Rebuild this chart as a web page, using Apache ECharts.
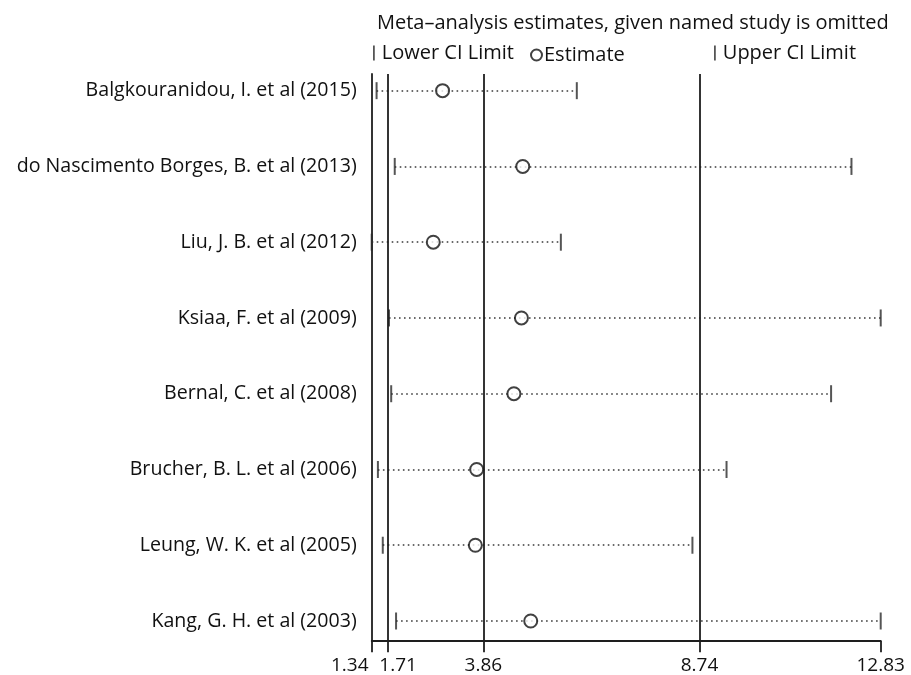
<!DOCTYPE html>
<html>
<head>
<meta charset="utf-8">
<script src="https://cdn.jsdelivr.net/npm/echarts@6/dist/echarts.min.js"></script>
<style>
  html, body { margin: 0; background: #fff; }
  #chart { width: 911px; height: 675px; }
</style>
</head>
<body>
<div id="chart"></div>
<script>
const studies = [
  "Balgkouranidou, I. et al (2015)",
  "do Nascimento Borges, B. et al (2013)",
  "Liu, J. B. et al (2012)",
  "Ksiaa, F. et al (2009)",
  "Bernal, C. et al (2008)",
  "Brucher, B. L. et al (2006)",
  "Leung, W. K. et al (2005)",
  "Kang, G. H. et al (2003)",
];
const lowerCI = [1.45, 1.86, 1.34, 1.73, 1.78, 1.48, 1.59, 1.89];
const estimate = [2.94, 4.75, 2.73, 4.72, 4.55, 3.71, 3.68, 4.93];
const upperCI = [5.97, 12.17, 5.61, 12.83, 11.71, 9.35, 8.58, 12.83];
// overall lower CI, estimate, upper CI
const overall = [1.71, 3.86, 8.74];
const xTicks = [1.34, 1.71, 3.86, 8.74, 12.83];

const rows = studies.map((s, i) => i + 1);
const font = "Open Sans";
const ink = "#1e1e1e";

let myChart = echarts.init(document.getElementById("chart"));
let option = {
  animation: false,
  textStyle: { fontFamily: font },
  title: {
    text: "Meta\u2013analysis estimates, given named study is omitted",
    left: 377,
    top: 13,
    padding: 0,
    textStyle: { fontFamily: font, fontSize: 20, fontWeight: "normal", color: "#111" },
  },
  legend: [
    {
      data: ["Lower CI Limit"],
      left: 373,
      top: 43,
      padding: 0,
      itemWidth: 1.8,
      itemHeight: 15,
      textStyle: { fontSize: 20, color: "#111", padding: [0, 0, 0, 2] },
    },
    {
      data: ["Estimate"],
      left: 530,
      top: 45,
      padding: 0,
      itemWidth: 11,
      itemHeight: 11,
      textStyle: { fontSize: 20, color: "#111", padding: [0, 0, 0, -3] },
    },
    {
      data: ["Upper CI Limit"],
      left: 714,
      top: 43,
      padding: 0,
      itemWidth: 1.8,
      itemHeight: 15,
      textStyle: { fontSize: 20, color: "#111", padding: [0, 0, 0, 2] },
    },
  ],
  grid: {
    left: 371.7,
    right: 30.3,
    top: 74,
    bottom: 34.3,
  },
  xAxis: {
    type: "value",
    min: 1.34,
    max: 12.83,
    axisLine: { lineStyle: { color: ink, width: 1.8 } },
    axisTick: { customValues: xTicks, length: 11.5, lineStyle: { color: ink, width: 1.8 } },
    axisLabel: {
      customValues: xTicks,
      margin: 15,
      fontSize: 19,
      color: "#111",
      //挤在一起的两个刻度标签左右错开
      formatter: (v) => {
        if (v === xTicks[0]) return "{l|" + v.toFixed(2) + "}";
        if (v === xTicks[1]) return "{r|" + v.toFixed(2) + "}";
        return v.toFixed(2);
      },
      rich: {
        l: { fontSize: 19, color: "#111", padding: [0, 44, 0, 0] },
        r: { fontSize: 19, color: "#111", padding: [0, 0, 0, 20] },
      },
    },
    splitLine: { show: false },
  },
  yAxis: {
    type: "value",
    inverse: true,
    min: 0.78,
    max: 8.26,
    axisLine: { show: true, lineStyle: { color: ink, width: 1.8 } },
    axisTick: { show: false },
    splitLine: { show: false },
    axisLabel: {
      customValues: rows,
      margin: 15,
      fontSize: 19.6,
      color: "#111",
      formatter: (v) => studies[v - 1],
    },
  },
  series: [
    {
      name: "ci",
      type: "lines",
      coordinateSystem: "cartesian2d",
      silent: true,
      z: 1,
      lineStyle: { color: "#3a3a3a", width: 1.6, type: [1.6, 3.4], opacity: 1 },
      data: rows.map((r, i) => ({ coords: [[lowerCI[i], r], [upperCI[i], r]] })),
    },
    {
      name: "Lower CI Limit",
      type: "scatter",
      symbol: "rect",
      symbolSize: [2, 17],
      z: 3,
      itemStyle: { color: "#2a2a2a" },
      data: rows.map((r, i) => [lowerCI[i], r]),
      //总体置信区间与估计值的竖线
      markLine: {
        silent: true,
        symbol: "none",
        label: { show: false },
        lineStyle: { color: ink, width: 1.8, type: "solid" },
        data: overall.map((v) => ({ xAxis: v })),
      },
    },
    {
      name: "Estimate",
      type: "scatter",
      symbol: "emptyCircle",
      symbolSize: 13,
      z: 4,
      itemStyle: { color: "#111", borderWidth: 1.7 },
      data: rows.map((r, i) => [estimate[i], r]),
    },
    {
      name: "Upper CI Limit",
      type: "scatter",
      symbol: "rect",
      symbolSize: [2, 17],
      z: 3,
      itemStyle: { color: "#2a2a2a" },
      data: rows.map((r, i) => [upperCI[i], r]),
    },
  ],
};
myChart.setOption(option);
</script>
</body>
</html>
